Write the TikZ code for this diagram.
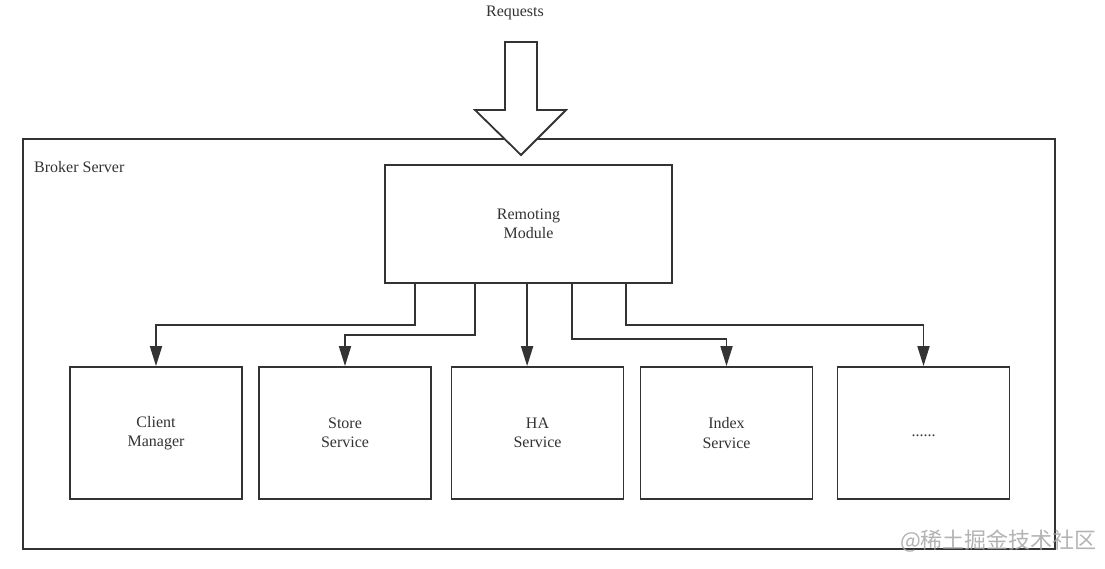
\documentclass[tikz,border=0pt]{standalone}
\usepackage{fontspec}
\setmainfont{Liberation Serif}
\newfontfamily\cjkfont{Noto Sans CJK SC}
\usetikzlibrary{arrows.meta,positioning}
\definecolor{ink}{HTML}{333333}
\begin{document}
\begin{tikzpicture}[x=1pt,y=-1pt,>={Triangle[length=20pt,width=12pt]},
  b/.style={draw=ink,line width=1.8pt,fill=white,align=center,inner sep=0pt,text=ink,font=\fontsize{16}{19.5}\selectfont},
  mod/.style={b,minimum width=172pt,minimum height=132pt},
  w/.style={draw=ink,line width=1.8pt}]
  \useasboundingbox (0,0) rectangle (1105,569);
  \node[b,line width=2.2pt,minimum width=1032pt,minimum height=410pt,anchor=north west](bs) at (22,138) {};
  \node[anchor=west,inner sep=0pt,text=ink,font=\fontsize{16}{19.5}\selectfont](bl) at (34,167) {Broker Server};
  \node[anchor=center,inner sep=0pt,text=ink,font=\fontsize{16}{19.5}\selectfont](req) at (515,13) {Requests};
  \draw[w,fill=white,line join=miter] (505,42) -- (537,42) -- (537,110) -- (566,110) -- (521,155) -- (475,110) -- (505,110) -- cycle;
  \node[b,minimum width=287pt,minimum height=118pt](rm) at (528.5,224) {Remoting\\Module};
  \node[mod](cm) at (156,433) {Client\\Manager};
  \node[mod](ss) at (345,433) {Store\\Service};
  \node[mod](ha) at (537.5,433) {HA\\Service};
  \node[mod](is) at (726.5,433) {Index\\Service};
  \node[mod](etc) at (923.5,433) {\strut......};
  \draw[w,->] ([xshift=31pt]rm.south west) -- ++(0,41) -| (cm.north);
  \draw[w,->] ([xshift=91pt]rm.south west) -- ++(0,51) -| (ss.north);
  \draw[w,->] ([xshift=143pt]rm.south west) coordinate(h) -- (h |- ha.north);
  \draw[w,->] ([xshift=188pt]rm.south west) -- ++(0,55) -| (is.north);
  \draw[w,->] ([xshift=242pt]rm.south west) -- ++(0,41) -| (etc.north);
  \node[anchor=east,inner sep=0pt,text=black!35,opacity=.85,font=\cjkfont\fontsize{22}{22}\selectfont](wm) at (1097,541) {@稀土掘金技术社区};
\end{tikzpicture}
\end{document}
